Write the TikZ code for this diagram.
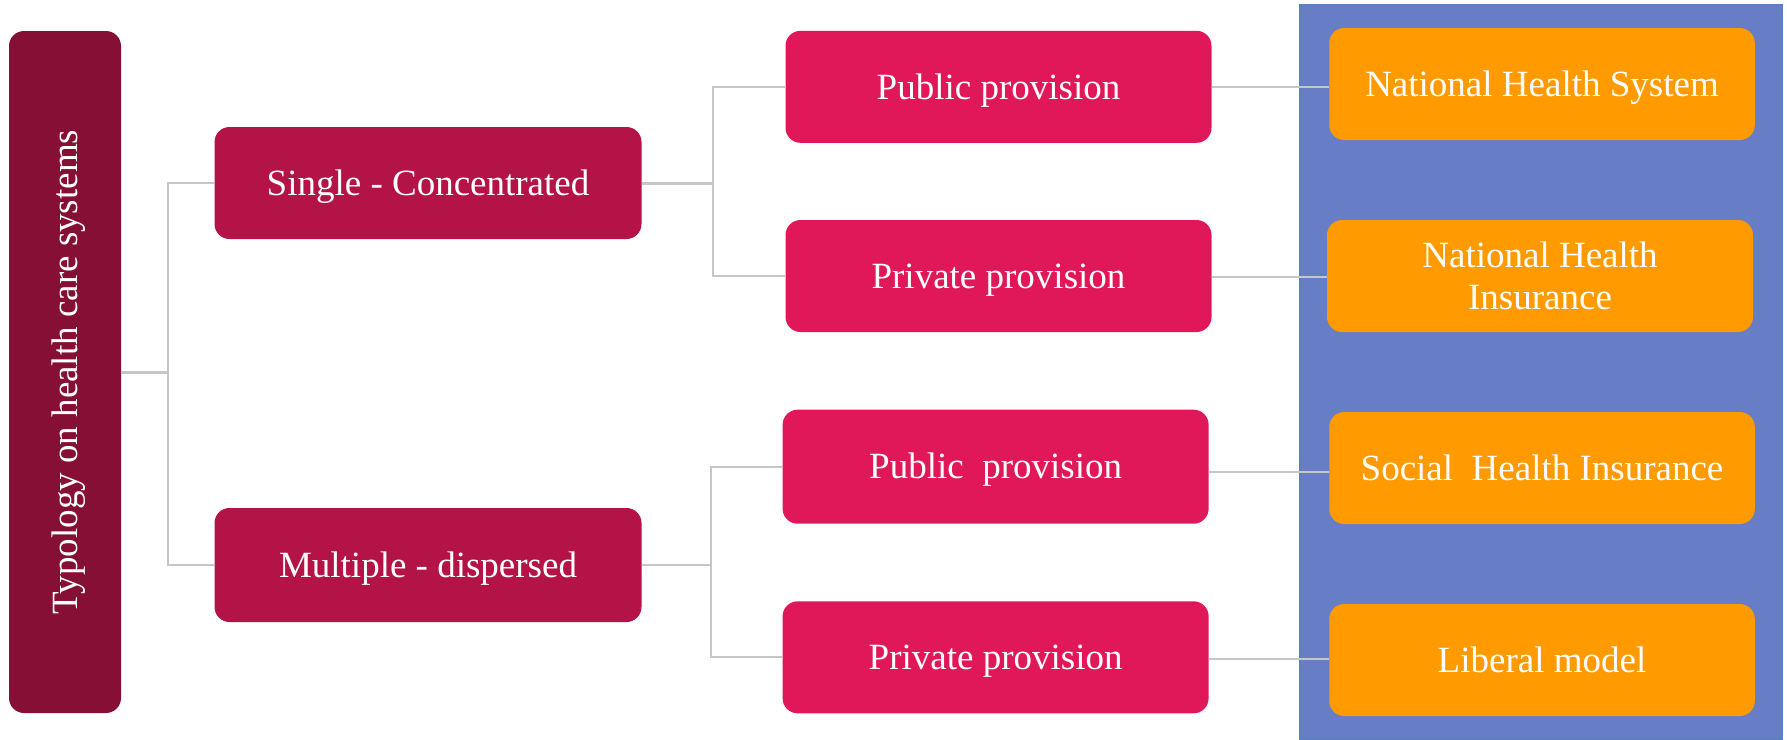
\documentclass[tikz,border=0pt]{standalone}
\usepackage{fontspec}
\setmainfont{Liberation Serif}
\definecolor{rootred}{HTML}{850F35}
\definecolor{midred}{HTML}{B41347}
\definecolor{brightred}{HTML}{E0185A}
\definecolor{amber}{HTML}{FF9A00}
\definecolor{panelblue}{HTML}{677EC6}
\definecolor{paneledge}{HTML}{5B80C2}
\definecolor{linegray}{HTML}{C6C6C6}
\begin{document}
\begin{tikzpicture}[x=1pt,y=-1pt,
  every node/.style={text=white, font=\fontsize{37}{42.3}\selectfont, inner sep=0pt},
  card/.style={rounded corners=15pt, minimum width=426pt, minimum height=112pt},
  oneline/.style={text height=24.5pt, text depth=0pt},
  level1/.style={card, fill=midred, minimum width=427pt, oneline},
  level2/.style={card, fill=brightred, oneline},
  model/.style={card, fill=amber, minimum width=425.5pt},
  conn/.style={draw=linegray, line width=2pt},
  trunkline/.style={draw=linegray, line width=3pt},
]
\useasboundingbox (0,0) rectangle (1787,739);

% background panel behind the model column
\fill[panelblue, draw=paneledge, line width=1.5pt] (1300,5) rectangle (1782,739);

% root (rotated: its south anchor faces right)
\node[card, fill=rootred, minimum width=682pt, minimum height=112pt, rotate=90, oneline]
  (root) at (65,372) {Typology on health care systems};

% first level
\node[level1, minimum height=112pt] (single) at (428,183) {Single - Concentrated};
\node[level1, minimum height=114pt] (multi)  at (428,565) {Multiple - dispersed};

% second level
\node[level2] (pub1)  at (998.5,86.8) {Public provision};
\node[level2] (priv1) at (998.5,276)  {Private provision};
\node[level2, minimum height=114pt] (pub2) at (995.6,466.7) {Public~ provision};
\node[level2] (priv2) at (995.6,657.3) {Private provision};

% health system models
\node[model, oneline] (nhs) at (1542,84) {National Health System};
\node[model, minimum width=426pt, align=center] (nhi) at (1540,276) {National Health\\Insurance};
\node[model, oneline] (shi) at (1542,468) {Social~ Health Insurance};
\node[model, oneline] (lib) at (1542,660) {Liberal model};

% junction columns
\coordinate (trunk) at (168,0);
\coordinate (b1) at (713,0);
\coordinate (b2) at (711,0);

% root to first level
\draw[trunkline] (root.south) -- (root.south -| trunk);
\draw[conn] (single.west) -| (trunk |- multi.west) -- (multi.west);

% first level to second level
\draw[trunkline] (single.east) -- (single.east -| b1);
\draw[conn] (pub1.west) -| (b1 |- priv1.west) -- (priv1.west);
\draw[conn] (multi.east) -- (multi.east -| b2);
\draw[conn] (pub2.west) -| (b2 |- priv2.west) -- (priv2.west);

% second level to models
\draw[conn] (pub1.east) -- (pub1.east -| nhs.west);
\draw[conn] ([yshift=-1pt]priv1.east) -- ([yshift=-1pt]priv1.east -| nhi.west);
\draw[conn] ([yshift=-5.5pt]pub2.east) -- ([yshift=-5.5pt]pub2.east -| shi.west);
\draw[conn] ([yshift=-1.5pt]priv2.east) -- ([yshift=-1.5pt]priv2.east -| lib.west);
\end{tikzpicture}
\end{document}
